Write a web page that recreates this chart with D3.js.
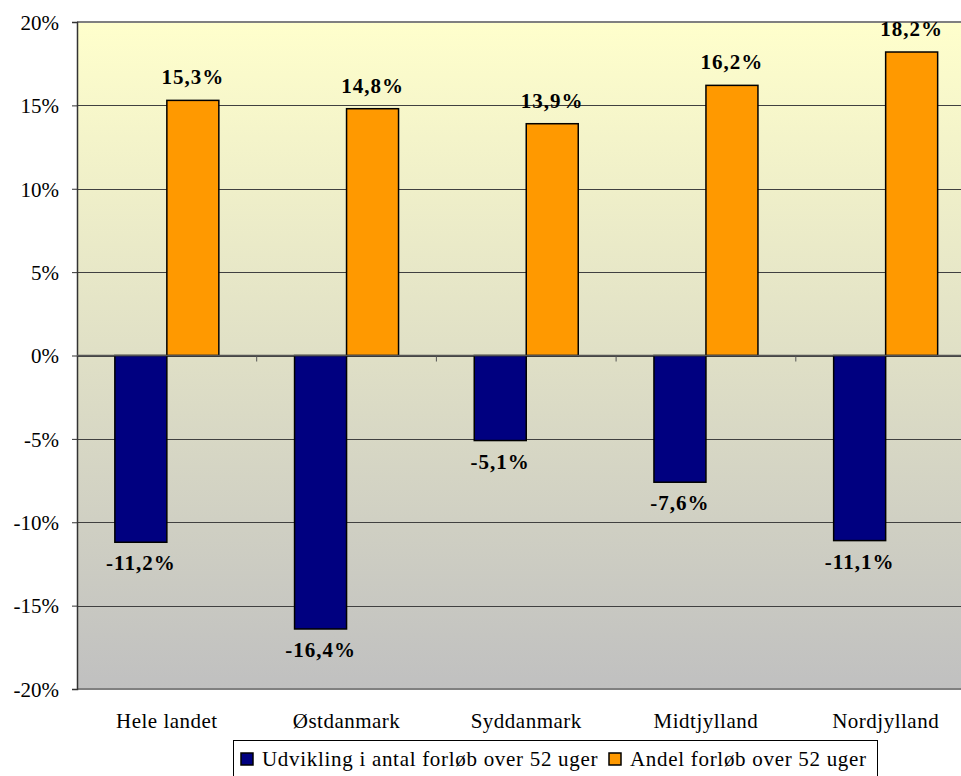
<!DOCTYPE html>
<html>
<head>
<meta charset="utf-8">
<script src="https://cdn.jsdelivr.net/npm/d3@7"></script>
<style>
  body { margin: 0; background: #fff; }
  text { font-family: "Liberation Serif", "Times New Roman", serif; fill: #000; }
</style>
</head>
<body>
<script>
// Data
const categories = ["Hele landet", "Østdanmark", "Syddanmark", "Midtjylland", "Nordjylland"];
const seriesNames = ["Udvikling i antal forløb over 52 uger", "Andel forløb over 52 uger"];
const udvikling = [-11.2, -16.4, -5.1, -7.6, -11.1];
const andel = [15.3, 14.8, 13.9, 16.2, 18.2];
const yTicks = [-20, -15, -10, -5, 0, 5, 10, 15, 20];
const colors = ["#000080", "#FF9900"];

const W = 961, H = 776;
const plot = { left: 77, top: 22, bottom: 689, right: 77 + 179.7 * 5 };

const svg = d3.select("body").append("svg")
    .attr("width", W)
    .attr("height", H);

// Background gradient
const grad = svg.append("defs").append("linearGradient")
    .attr("id", "bg")
    .attr("x1", 0).attr("y1", 0).attr("x2", 0).attr("y2", 1);
grad.append("stop").attr("offset", "0%").attr("stop-color", "#FFFFCC");
grad.append("stop").attr("offset", "100%").attr("stop-color", "#C0C0C0");

svg.append("rect")
    .attr("x", plot.left)
    .attr("y", plot.top)
    .attr("width", plot.right - plot.left)
    .attr("height", plot.bottom - plot.top)
    .attr("fill", "url(#bg)");

// Scales
const y = d3.scaleLinear().domain([-20, 20]).range([plot.bottom, plot.top]);
const x0 = d3.scaleBand().domain(categories).range([plot.left, plot.right]).padding(0);
const gap = 75.7;
const x1 = d3.scaleBand().domain([0, 1]).range([gap / 2, x0.bandwidth() - gap / 2]);

// Gridlines
svg.append("g")
    .selectAll("line")
    .data(yTicks.filter(d => d > -20 && d < 20))
    .join("line")
    .attr("x1", plot.left)
    .attr("x2", plot.right)
    .attr("y1", d => Math.round(y(d)) + 0.5)
    .attr("y2", d => Math.round(y(d)) + 0.5)
    .attr("stroke", "#404040")
    .attr("stroke-width", 1);

// Top and bottom borders
svg.append("line")
    .attr("x1", plot.left).attr("x2", plot.right)
    .attr("y1", plot.top).attr("y2", plot.top)
    .attr("stroke", "#808080").attr("stroke-width", 2);
svg.append("line")
    .attr("x1", plot.left).attr("x2", plot.right)
    .attr("y1", plot.bottom).attr("y2", plot.bottom)
    .attr("stroke", "#808080").attr("stroke-width", 2);

// Y axis
const yAxis = svg.append("g")
    .attr("transform", `translate(${plot.left},0)`)
    .call(d3.axisLeft(y).tickValues(yTicks).tickSize(5).tickPadding(13).tickFormat(d => d + "%"));
yAxis.select(".domain").attr("stroke", "#333").attr("stroke-width", 1.5);
yAxis.selectAll(".tick line").attr("stroke", "#333");
yAxis.selectAll(".tick text")
    .attr("font-size", 21)
    .attr("font-family", "Liberation Serif, Times New Roman, serif")
    .attr("dy", "0.35em");

// Bars
const groups = svg.append("g")
    .selectAll("g")
    .data(categories)
    .join("g")
    .attr("transform", d => `translate(${x0(d)},0)`);

const values = [udvikling, andel];
groups.selectAll("rect")
    .data((d, i) => values.map((s, j) => ({ s: j, v: s[i] })))
    .join("rect")
    .attr("x", d => x1(d.s))
    .attr("width", x1.bandwidth())
    .attr("y", d => y(Math.max(0, d.v)))
    .attr("height", d => Math.abs(y(d.v) - y(0)))
    .attr("fill", d => colors[d.s])
    .attr("stroke", "#000")
    .attr("stroke-width", 1.5);

// Category axis at zero
svg.append("line")
    .attr("x1", plot.left).attr("x2", plot.right)
    .attr("y1", y(0)).attr("y2", y(0))
    .attr("stroke", "#555").attr("stroke-width", 1.5);
svg.append("g")
    .selectAll("line")
    .data(categories.slice(1))
    .join("line")
    .attr("x1", d => x0(d)).attr("x2", d => x0(d))
    .attr("y1", y(0)).attr("y2", y(0) + 6)
    .attr("stroke", "#555");

// Category labels
svg.append("g")
    .selectAll("text")
    .data(categories)
    .join("text")
    .attr("x", d => x0(d) + x0.bandwidth() / 2)
    .attr("y", 728)
    .attr("text-anchor", "middle")
    .attr("font-size", 21)
    .attr("letter-spacing", 0.5)
    .text(d => d);

// Value labels
const fmt = v => v.toFixed(1).replace(".", ",") + "%";
groups.selectAll("text")
    .data((d, i) => values.map((s, j) => ({ s: j, v: s[i] })))
    .join("text")
    .attr("x", d => x1(d.s) + x1.bandwidth() / 2)
    .attr("y", d => d.v >= 0 ? y(d.v) - 16 : y(d.v) + 28)
    .attr("text-anchor", "middle")
    .attr("font-size", 21)
    .attr("font-weight", "bold")
    .attr("letter-spacing", 1)
    .text(d => fmt(d.v));

// Legend
const legend = svg.append("g");
legend.append("rect")
    .attr("x", 233.5).attr("y", 740.5)
    .attr("width", 644).attr("height", 50)
    .attr("fill", "#fff")
    .attr("stroke", "#000").attr("stroke-width", 1);

const legendX = [241, 609];
const items = legend.selectAll("g")
    .data(seriesNames)
    .join("g")
    .attr("transform", (d, i) => `translate(${legendX[i]},753)`);
items.append("rect")
    .attr("width", 12).attr("height", 12)
    .attr("fill", (d, i) => colors[i])
    .attr("stroke", "#000").attr("stroke-width", 1.5);
items.append("text")
    .attr("x", 21)
    .attr("y", 13)
    .attr("font-size", 21)
    .attr("letter-spacing", 0.7)
    .text(d => d);
</script>
</body>
</html>
